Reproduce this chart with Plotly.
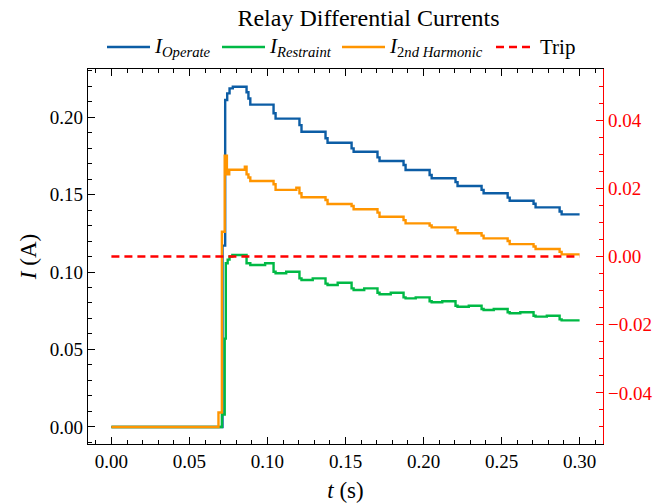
import plotly.graph_objects as go

# ---- data ----
t_operate = [0.0, 0.0712, 0.0729, 0.0742, 0.0757, 0.0778, 0.0866, 0.0878, 0.0890,
             0.1039, 0.1052, 0.1205, 0.1218, 0.1372, 0.1385, 0.1539, 0.1552, 0.1705, 0.1718,
             0.1872, 0.1885, 0.2039, 0.2052, 0.2205, 0.2218, 0.2372, 0.2385, 0.2539, 0.2552,
             0.2705, 0.2718, 0.2872, 0.2885, 0.3]
i_operate = [0.0, 0.117, 0.211, 0.2153, 0.2185, 0.2195, 0.216, 0.212, 0.208,
             0.2024, 0.199, 0.1948, 0.1905, 0.1863, 0.1834, 0.1798, 0.1776, 0.174, 0.1716,
             0.169, 0.1658, 0.1626, 0.1605, 0.158, 0.1555, 0.153, 0.1508, 0.148, 0.146,
             0.144, 0.1417, 0.139, 0.1372, 0.1372]

t_restraint = [0.0, 0.0708, 0.0726, 0.0733, 0.0745, 0.0757, 0.0775, 0.0866, 0.0890, 0.0985,
               0.1039, 0.1052, 0.1120, 0.1205, 0.1218, 0.1290, 0.1372, 0.1385, 0.1450,
               0.1539, 0.1552, 0.1620, 0.1705, 0.1718, 0.1790, 0.1872, 0.1885, 0.1950,
               0.2039, 0.2052, 0.2120, 0.2205, 0.2218, 0.2290, 0.2372, 0.2385, 0.2450,
               0.2539, 0.2552, 0.2620, 0.2705, 0.2718, 0.2790, 0.2872, 0.2885, 0.3]
i_restraint = [0.0, 0.008, 0.057, 0.1056, 0.108, 0.110, 0.111, 0.1056, 0.1045, 0.1056,
               0.1002, 0.0992, 0.1002, 0.0959, 0.0948, 0.0959, 0.0925, 0.0916, 0.0931,
               0.0894, 0.0884, 0.0894, 0.0866, 0.0856, 0.0866, 0.0836, 0.0830, 0.0836,
               0.0811, 0.0805, 0.0811, 0.0782, 0.0776, 0.0782, 0.0761, 0.0755, 0.0761,
               0.0740, 0.0734, 0.0740, 0.0718, 0.0712, 0.0718, 0.0694, 0.0688, 0.0688]

t_harmonic = [0.0, 0.0686, 0.0708, 0.0726, 0.0740, 0.0755, 0.0855, 0.0866, 0.0878, 0.0890,
              0.1039, 0.1052, 0.1185, 0.1205, 0.1218, 0.1372, 0.1385, 0.1539, 0.1552,
              0.1705, 0.1718, 0.1872, 0.1885, 0.2039, 0.2052, 0.2205, 0.2218, 0.2372, 0.2385,
              0.2539, 0.2552, 0.2705, 0.2718, 0.2872, 0.2885, 0.3]
i_harmonic = [0.0, 0.0093, 0.126, 0.175, 0.163, 0.166, 0.168, 0.163, 0.161, 0.1587,
              0.1566, 0.153, 0.1544, 0.1508, 0.1482, 0.1465, 0.1439, 0.1426, 0.1405,
              0.1383, 0.1357, 0.1335, 0.1314, 0.130, 0.1288, 0.127, 0.125, 0.1235, 0.1217,
              0.120, 0.118, 0.1165, 0.1148, 0.113, 0.1114, 0.1114]

t_trip = [0.0, 0.3]
trip = [0.0, 0.0]

x_ticks = [0.00, 0.05, 0.10, 0.15, 0.20, 0.25, 0.30]
y_ticks = [0.00, 0.05, 0.10, 0.15, 0.20]
y2_ticks = [-0.04, -0.02, 0.00, 0.02, 0.04]

legend_labels = ["<i>I</i><sub><i>Operate</i></sub>",
                 "<i>I</i><sub><i>Restraint</i></sub>",
                 "<i>I</i><sub>2<i>nd Harmonic</i></sub>",
                 "Trip"]

FONT = "Liberation Serif, Times New Roman, serif"
BLUE, GREEN, ORANGE, RED = "#0C5DA5", "#00B945", "#FF9500", "#FF0000"
LW = 2.4
DASH = "8px,5px"

fig = go.Figure()
fig.add_trace(go.Scatter(x=t_operate, y=i_operate, mode="lines", line_shape="hv",
                         line=dict(color=BLUE, width=LW), name=legend_labels[0]))
fig.add_trace(go.Scatter(x=t_restraint, y=i_restraint, mode="lines", line_shape="hv",
                         line=dict(color=GREEN, width=LW), name=legend_labels[1]))
fig.add_trace(go.Scatter(x=t_harmonic, y=i_harmonic, mode="lines", line_shape="hv",
                         line=dict(color=ORANGE, width=LW), name=legend_labels[2]))
fig.add_trace(go.Scatter(x=t_trip, y=trip, mode="lines", yaxis="y2",
                         line=dict(color=RED, width=LW, dash=DASH), name=legend_labels[3]))

# ---- hand-placed legend row above the axes (paper coordinates) ----
L, R, T, B = 88, 603, 69, 444          # plot-area pixel box
def px(x):
    return (x - L) / (R - L)
def py(y):
    return (B - y) / (B - T)

legend_y = 47
legend_items = [(107, 150, 152, BLUE, "solid"),
                (222, 265, 267, GREEN, "solid"),
                (342, 385, 387, ORANGE, "solid"),
                (496, 535, 538, RED, DASH)]
for (x0, x1, xt, col, dash), lab in zip(legend_items, legend_labels):
    fig.add_shape(type="line", xref="paper", yref="paper",
                  x0=px(x0), x1=px(x1), y0=py(legend_y), y1=py(legend_y),
                  line=dict(color=col, width=LW, dash=dash))
    fig.add_annotation(xref="paper", yref="paper", x=px(xt), y=py(legend_y),
                       xanchor="left", yanchor="middle", showarrow=False,
                       text=lab, font=dict(family=FONT, size=21, color="black"))

axis_common = dict(ticks="inside", showgrid=False, zeroline=False, showline=True,
                   linewidth=1.3, tickwidth=1, ticklen=7, automargin=False)

fig.update_layout(
    width=664, height=504,
    margin=dict(l=L, r=664 - R, t=T, b=504 - B),
    paper_bgcolor="white", plot_bgcolor="white",
    font=dict(family=FONT, size=19, color="black"),
    title=dict(text="Relay Differential Currents", x=0.555, xanchor="center",
               y=0.965, yanchor="middle", font=dict(family=FONT, size=24, color="black")),
    showlegend=False,
    xaxis=dict(range=[-0.015, 0.315], tickvals=x_ticks, tickformat=".2f",
               linecolor="black", tickcolor="black", mirror="ticks",
               minor=dict(ticks="inside", dtick=0.01, ticklen=4, tickcolor="black", tickwidth=1),
               title=dict(text="<i>t</i> (s)", standoff=10),
               **axis_common),
    yaxis=dict(range=[-0.011, 0.231], tickvals=y_ticks, tickformat=".2f",
               linecolor="black", tickcolor="black",
               minor=dict(ticks="inside", dtick=0.01, ticklen=4, tickcolor="black", tickwidth=1),
               title=dict(text="<i>I</i> (A)", standoff=6),
               **axis_common),
    yaxis2=dict(overlaying="y", side="right", range=[-0.055, 0.055], tickvals=y2_ticks,
                tickformat=".2f", linecolor=RED, tickcolor=RED,
                tickfont=dict(color=RED, family=FONT, size=19),
                minor=dict(ticks="inside", dtick=0.005, ticklen=4, tickcolor=RED, tickwidth=1),
                **axis_common),
)

fig.write_html("out.html", config={"displayModeBar": False},
               post_script="document.body.style.margin='0px';")
